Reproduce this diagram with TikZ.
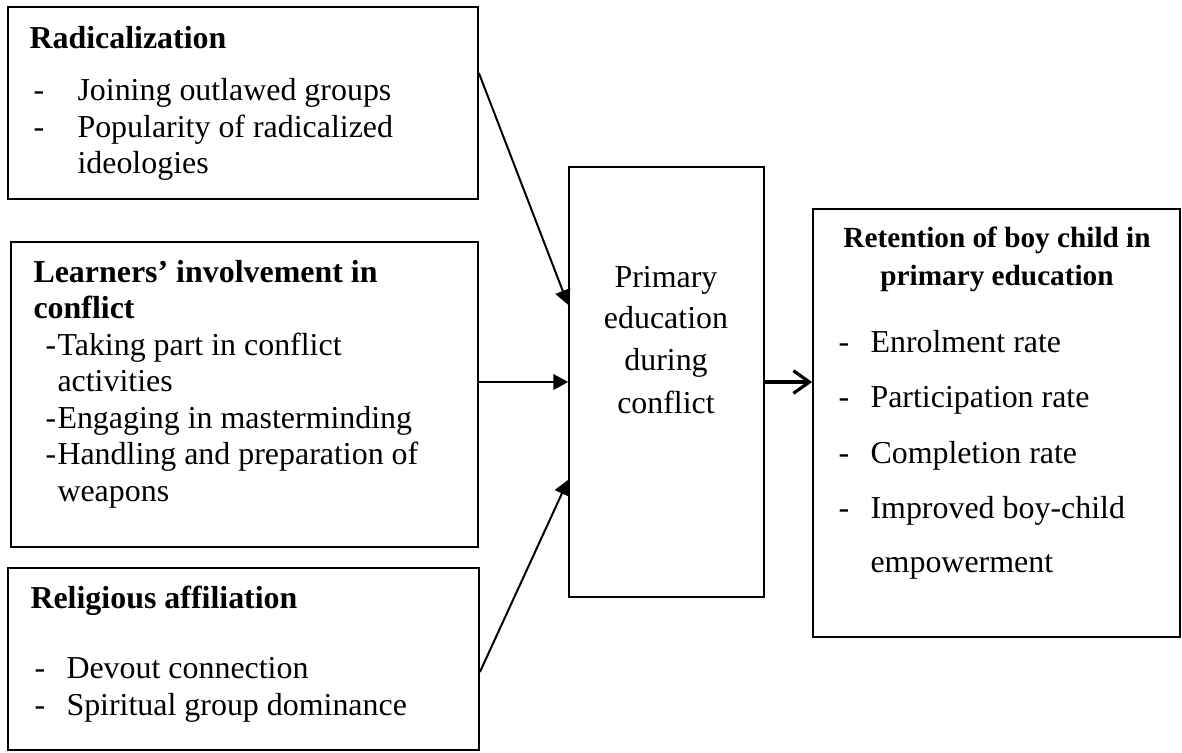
\documentclass[tikz,border=0pt]{standalone}
\usepackage{fontspec}
\setmainfont{Liberation Serif}
\usetikzlibrary{arrows.meta}

\begin{document}
\begin{tikzpicture}[x=0.01322cm, y=-0.01322cm]
\tikzstyle{block} = [rectangle, draw=black, line width=0.65pt, inner sep=0pt]
\tikzstyle{txt} = [anchor=base west, inner sep=0pt, font=\fontsize{12pt}{14pt}\selectfont]
\tikzstyle{ctxt} = [anchor=base, inner sep=0pt, font=\fontsize{12pt}{14pt}\selectfont]
\tikzstyle{arrow} = [line width=0.75pt, -{Triangle[length=5.6pt,width=5.9pt]}]
\useasboundingbox (0,0) rectangle (1182,752);
% boxes
\node (B_rad) at (243,103) [block, minimum width=176.7pt, minimum height=72.2pt] {};
\node (B_lrn) at (244.5,394.5) [block, minimum width=175.6pt, minimum height=114.7pt] {};
\node (B_rel) at (243.5,659) [block, minimum width=177.1pt, minimum height=68.4pt] {};
\node (B_mid) at (666.5,382) [block, minimum width=73.3pt, minimum height=161.7pt] {};
\node (B_ret) at (996.5,423) [block, minimum width=138pt, minimum height=160.9pt] {};
% radicalization
\node (T_rad_0) at (29,48) [txt] {\textbf{Radicalization}};
\node (D_rad_1) at (33,100) [txt] {-};
\node (T_rad_1) at (77,100) [txt] {Joining outlawed groups};
\node (D_rad_2) at (33,137) [txt] {-};
\node (T_rad_2) at (77,137) [txt] {Popularity of radicalized};
\node (T_rad_3) at (77,173) [txt] {ideologies};
% learners
\node (T_lrn_0) at (33,282) [txt] {\textbf{Learners’ involvement in}};
\node (T_lrn_1) at (33,318) [txt] {\textbf{conflict}};
\node (D_lrn_2) at (45,355) [txt] {-};
\node (T_lrn_2) at (57,355) [txt] {Taking part in conflict};
\node (T_lrn_3) at (57,391) [txt] {activities};
\node (D_lrn_4) at (45,428) [txt] {-};
\node (T_lrn_4) at (57,428) [txt] {Engaging in masterminding};
\node (D_lrn_5) at (45,464) [txt] {-};
\node (T_lrn_5) at (57,464) [txt] {Handling and preparation of};
\node (T_lrn_6) at (57,501) [txt] {weapons};
% religious
\node (T_rel_0) at (30,608) [txt] {\textbf{Religious affiliation}};
\node (D_rel_1) at (34,678) [txt] {-};
\node (T_rel_1) at (66,678) [txt] {Devout connection};
\node (D_rel_2) at (34,715) [txt] {-};
\node (T_rel_2) at (66,715) [txt] {Spiritual group dominance};
% middle
\node (T_mid_1) at (666,287) [ctxt] {Primary};
\node (T_mid_2) at (666,328) [ctxt] {education};
\node (T_mid_3) at (666,370) [ctxt] {during};
\node (T_mid_4) at (666,413) [ctxt] {conflict};
% retention
\node (T_ret_0) at (997,247) [ctxt, font=\fontsize{11pt}{13pt}\selectfont] {\textbf{Retention of boy child in}};
\node (T_ret_1) at (997,285) [ctxt, font=\fontsize{11pt}{13pt}\selectfont] {\textbf{primary education}};
\node (D_ret_2) at (838,352) [txt] {-};
\node (T_ret_2) at (870,352) [txt] {Enrolment rate};
\node (D_ret_3) at (838,407) [txt] {-};
\node (T_ret_3) at (870,407) [txt] {Participation rate};
\node (D_ret_4) at (838,463) [txt] {-};
\node (T_ret_4) at (870,463) [txt] {Completion rate};
\node (D_ret_5) at (838,518) [txt] {-};
\node (T_ret_5) at (870,518) [txt] {Improved boy-child};
\node (T_ret_6) at (870,572) [txt] {empowerment};
% arrows
\draw [arrow] ([yshift=11.3pt]B_rad.east) -- ([yshift=29pt]B_mid.west);
\draw [arrow] (B_lrn.east |- B_mid.west) -- (B_mid.west);
\draw [arrow] ([yshift=-4.9pt]B_rel.east) -- ([yshift=-36.8pt]B_mid.west);
\draw [line width=1.2pt, -{Straight Barb[length=6pt,width=8.5pt]}] (B_mid.east) -- (B_mid.east -| B_ret.west);
\end{tikzpicture}
\end{document}
